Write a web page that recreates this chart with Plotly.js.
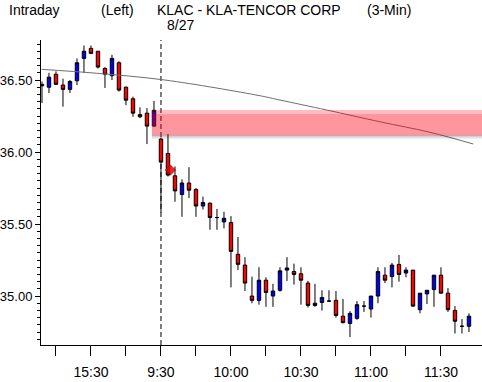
<!DOCTYPE html>
<html><head><meta charset="utf-8">
<script src="https://cdn.plot.ly/plotly-3.0.1.min.js"></script>
<style>
html,body{margin:0;padding:0;background:#fff;}
#chart{width:482px;height:382px;}
</style>
</head><body><div id="chart"></div>
<script>
// bar times (3-min bars); previous day 15:09-15:57, then 8/27 9:30-11:42
const times = ["15:09","15:12","15:15","15:18","15:21","15:24","15:27","15:30","15:33","15:36","15:39","15:42","15:45","15:48","15:51","15:54","15:57",
"9:30","9:33","9:36","9:39","9:42","9:45","9:48","9:51","9:54","9:57","10:00","10:03","10:06","10:09","10:12","10:15","10:18","10:21","10:24","10:27",
"10:30","10:33","10:36","10:39","10:42","10:45","10:48","10:51","10:54","10:57","11:00","11:03","11:06","11:09","11:12","11:15","11:18","11:21","11:24","11:27",
"11:30","11:33","11:36","11:39","11:42"];
const openP = [36.47,36.45,36.54,36.465,36.435,36.495,36.65,36.72,36.70,36.58,36.53,36.62,36.45,36.37,36.26,36.27,36.18,
36.09,35.99,35.835,35.705,35.785,35.74,35.625,35.645,35.545,35.515,35.51,35.29,35.215,35.00,34.97,35.11,35.00,35.04,35.18,35.17,
35.155,35.09,34.935,34.955,34.965,34.97,34.86,34.81,34.845,34.93,34.91,35.00,35.145,35.135,35.22,35.16,35.18,34.905,35.015,35.045,
35.145,35.02,34.90,34.79,34.79];
const highP = [36.49,36.55,36.56,36.51,36.50,36.65,36.74,36.74,36.70,36.59,36.675,36.63,36.455,36.385,36.31,36.305,36.355,
36.10,36.125,35.90,35.81,35.895,35.75,35.69,35.65,35.605,35.585,35.555,35.41,35.27,35.135,35.20,35.13,35.085,35.20,35.27,35.225,
35.20,35.105,35.085,35.04,35.04,35.035,34.98,34.895,34.965,34.965,35.00,35.20,35.20,35.23,35.285,35.20,35.18,35.02,35.04,35.145,
35.20,35.055,34.93,34.84,34.88];
const lowP = [36.34,36.41,36.465,36.315,36.41,36.465,36.55,36.68,36.58,36.445,36.50,36.42,36.325,36.245,36.235,36.055,36.175,
35.58,35.83,35.655,35.55,35.68,35.55,35.60,35.46,35.46,35.47,35.06,35.18,35.035,34.95,34.94,34.925,34.925,35.03,35.105,35.08,
34.94,34.92,34.925,34.90,34.96,34.85,34.81,34.715,34.835,34.89,34.85,34.95,35.09,35.06,35.10,35.13,34.925,34.88,34.945,34.925,
35.015,34.89,34.74,34.74,34.75];
const closeP = [36.46,36.52,36.47,36.435,36.49,36.62,36.70,36.685,36.59,36.54,36.65,36.43,36.36,36.27,36.245,36.18,36.29,
35.93,35.84,35.73,35.785,35.735,35.625,35.65,35.545,35.545,35.54,35.31,35.22,35.09,34.97,35.11,35.025,35.035,35.175,35.195,35.15,
35.11,34.935,34.95,34.99,34.965,34.865,34.815,34.88,34.94,34.93,35.00,35.17,35.11,35.215,35.15,35.18,34.93,35.02,35.04,35.145,
35.02,34.905,34.825,34.79,34.86];
const prevDayBars = 17;

// moving-average line read at a few points (bar position, price)
const maPos = [-17.04,-9.19,0.57,14.14,17,23.67,31.29,38.43,44.61];
const maVal = [36.574,36.547,36.500,36.391,36.361,36.292,36.210,36.137,36.056];

// resistance zone
const zoneLow = [36.111];
const zoneHigh = [36.292];
const zoneStart = [-1.3];

// small red marker
const markPos = [1.35];
const markVal = [35.875];

// x axis ticks
const xTickPos = [-15,-10,-5,0,5,10,15,20,25,30,35,40];
const xTickText = ["","15:30","","9:30","","10:00","","10:30","","11:00","","11:30"];

const xIdx = times.map((t,i)=>i-prevDayBars);
const FONT = "'Liberation Sans',Arial,sans-serif";

const traces = [
 {type:'scatter',mode:'lines',x:maPos,y:maVal,line:{color:'#6e6e6e',width:1,shape:'spline'},hoverinfo:'skip'},
 {type:'candlestick',x:xIdx,open:openP,high:highP,low:lowP,close:closeP,
  increasing:{fillcolor:'#0000ff',line:{color:'#000',width:1}},
  decreasing:{fillcolor:'#ff0000',line:{color:'#000',width:1}},
  whiskerwidth:0,hoverinfo:'skip'},
 {type:'scatter',mode:'markers',x:markPos,y:markVal,marker:{symbol:'diamond',size:8,color:'rgba(230,0,0,0.85)',line:{color:'rgba(90,0,0,0.4)',width:1}},hoverinfo:'skip'}
];

const zl = zoneLow[0], zh = zoneHigh[0], zs = zoneStart[0];
const zr = zh - zl;
function band(y0,y1,col){return {type:'rect',xref:'x',yref:'y',x0:zs,x1:46,y0:y0,y1:y1,fillcolor:col,line:{width:0},layer:'above'};}
const shapes = [
 {type:'line',xref:'x',yref:'paper',x0:0,x1:0,y0:0,y1:1,line:{color:'#000',width:1,dash:'5px,3px'},layer:'below'},
 band(zh - zr*0.15, zh, 'rgba(255,0,20,0.26)'),
 band(zl + zr*0.12, zh - zr*0.15, 'rgba(255,0,20,0.41)'),
 band(zl, zl + zr*0.12, 'rgba(200,20,40,0.42)'),
 band(zl - zr*0.04, zl, 'rgba(60,40,40,0.22)'),
 band(zl - zr*0.08, zl - zr*0.04, 'rgba(0,0,0,0.12)'),
 band(zl - zr*0.12, zl - zr*0.08, 'rgba(0,0,0,0.05)')
];

function txt(t,px,py){return {text:t,xref:'paper',yref:'paper',x:0,y:1,xanchor:'left',yanchor:'middle',xshift:px-41,yshift:40-py,showarrow:false,borderpad:0,font:{family:FONT,size:14,color:'#000'}};}

const layout = {
 width:482,height:382,margin:{l:41,r:0,t:40,b:37},
 paper_bgcolor:'#fff',plot_bgcolor:'#fff',showlegend:false,hovermode:false,
 font:{family:FONT,size:13,color:'#000'},
 xaxis:{range:[-17.14,45.86],type:'linear',tickmode:'array',tickvals:xTickPos,ticktext:xTickText,
  ticks:'outside',ticklen:10,tickcolor:'#000',showline:true,linecolor:'#000',linewidth:1,
  showgrid:false,zeroline:false,rangeslider:{visible:false},fixedrange:true,ticklabelstandoff:4,
  tickfont:{family:FONT,size:14}},
 yaxis:{range:[34.66,36.778],tickmode:'linear',tick0:0,dtick:0.5,tickformat:'.2f',
  ticks:'outside',ticklen:5,tickcolor:'#000',showline:true,linecolor:'#000',linewidth:1,
  minor:{dtick:0.05,tick0:0,ticks:'outside',ticklen:3,tickcolor:'#000',showgrid:false},
  showgrid:false,zeroline:false,fixedrange:true,ticklabelstandoff:0,tickfont:{family:FONT,size:13}},
 shapes:shapes,
 annotations:[
  txt('Intraday',8,9.5),
  txt('(Left)',100,9.5),
  txt('KLAC - KLA-TENCOR CORP',156,9.5),
  txt('(3-Min)',366,9.5),
  txt('8/27',166,25)
 ]
};
Plotly.newPlot('chart',traces,layout,{displayModeBar:false,staticPlot:true});
</script>
</body></html>
